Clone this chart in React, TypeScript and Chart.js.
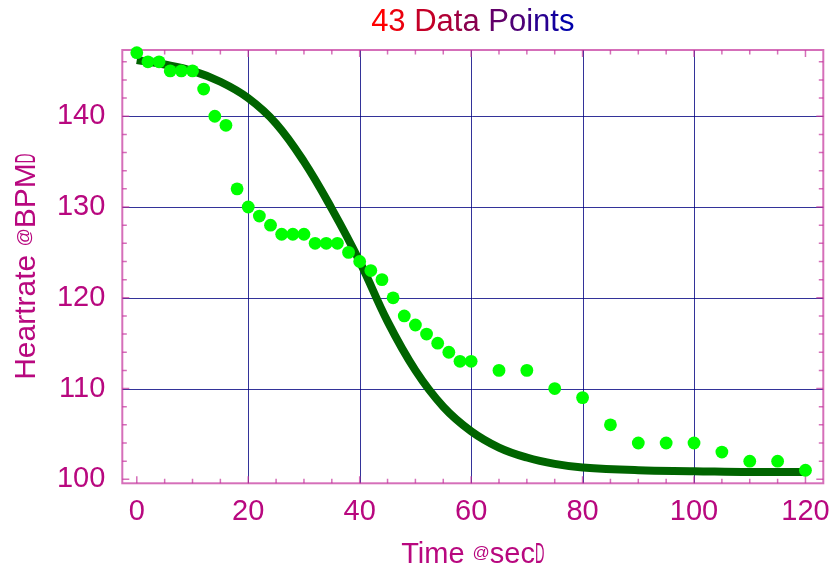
import React, { useEffect, useRef } from 'react';
import { Chart, registerables } from 'chart.js';

Chart.register(...registerables);

// ---- data ----
const TIME_SEC = [
  0, 2, 4, 6, 8, 10, 12, 14, 16, 18, 20, 22, 24, 26, 28, 30, 32, 34, 36, 38, 40,
  42, 44, 46, 48, 50, 52, 54, 56, 58, 60, 65, 70, 75, 80, 85, 90, 95, 100, 105,
  110, 115, 120,
];
const HEARTRATE_BPM = [
  147, 146, 146, 145, 145, 145, 143, 140, 139, 132, 130, 129, 128, 127, 127, 127,
  126, 126, 126, 125, 124, 123, 122, 120, 118, 117, 116, 115, 114, 113, 113, 112,
  112, 110, 109, 106, 104, 104, 104, 103, 102, 102, 101,
];
// fitted curve
const FIT_TIME = [0, 5, 10, 15, 20, 25, 30, 35, 40, 45, 50, 55, 60, 65, 70, 75, 80, 90, 100, 110, 120];
const FIT_BPM = [
  146.2, 145.7, 145.0, 143.8, 142.0, 139.2, 135.0, 129.8, 124.0, 117.4, 112.0,
  108.0, 105.3, 103.5, 102.4, 101.7, 101.3, 101.0, 100.9, 100.8, 100.8,
];

const X_LABEL_TICKS = [0, 20, 40, 60, 80, 100, 120];
const X_MINOR_TICKS = [0, 5, 10, 15, 20, 25, 30, 35, 40, 45, 50, 55, 60, 65, 70, 75, 80, 85, 90, 95, 100, 105, 110, 115, 120];
const Y_LABEL_TICKS = [100, 110, 120, 130, 140];
const Y_MINOR_TICKS = [100, 102, 104, 106, 108, 110, 112, 114, 116, 118, 120, 122, 124, 126, 128, 130, 132, 134, 136, 138, 140, 142, 144, 146];
const X_GRID = [20, 40, 60, 80, 100];
const Y_GRID = [110, 120, 130, 140];
const X_RANGE = [-2.6, 123.2];
const Y_RANGE = [99.56, 147.3];

const TITLE = `${TIME_SEC.length} Data Points`;
const X_TITLE_PARTS = ['Time ', '@', 'sec', 'D'];
const Y_TITLE_PARTS = ['Heartrate ', '@', 'BPM', 'D'];

const FONT = '"Liberation Sans", Arial, sans-serif';
const LABEL_COLOR = '#b8087f';
const GRID_COLOR = 'rgba(0,0,128,0.8)';
const FRAME_COLOR = 'rgba(195,50,155,0.7)';

function drawParts(ctx: CanvasRenderingContext2D, parts: string[], cx: number, baseY: number, size: number) {
  // parts: [normal, small @, normal, narrow D]
  const small = Math.round(size * 0.6);
  const narrow = 0.45;
  const widths: number[] = [];
  parts.forEach((p, i) => {
    ctx.font = `${i === 1 ? small : size}px ${FONT}`;
    let w = ctx.measureText(p).width;
    if (i === 3) w *= narrow;
    widths.push(w);
  });
  const total = widths.reduce((a, b) => a + b, 0);
  let x = cx - total / 2;
  ctx.fillStyle = LABEL_COLOR;
  ctx.textBaseline = 'alphabetic';
  ctx.textAlign = 'left';
  parts.forEach((p, i) => {
    ctx.font = `${i === 1 ? small : size}px ${FONT}`;
    if (i === 3) {
      ctx.save();
      ctx.translate(x, baseY);
      ctx.scale(narrow, 1);
      ctx.fillText(p, 0, 0);
      ctx.restore();
    } else {
      ctx.fillText(p, x, i === 1 ? baseY - 5 : baseY);
    }
    x += widths[i];
  });
}

const decorPlugin = {
  id: 'decor',
  beforeDatasetsDraw(chart: any) {
    const { ctx, chartArea: a, scales } = chart;
    const xs = scales.x;
    const ys = scales.y;
    ctx.save();
    ctx.lineWidth = 1;
    ctx.strokeStyle = GRID_COLOR;
    X_GRID.forEach((v) => {
      const px = Math.round(xs.getPixelForValue(v)) + 0.5;
      ctx.beginPath();
      ctx.moveTo(px, a.top);
      ctx.lineTo(px, a.bottom);
      ctx.stroke();
    });
    Y_GRID.forEach((v) => {
      const py = Math.round(ys.getPixelForValue(v)) + 0.5;
      ctx.beginPath();
      ctx.moveTo(a.left, py);
      ctx.lineTo(a.right, py);
      ctx.stroke();
    });
    ctx.strokeStyle = FRAME_COLOR;
    ctx.lineWidth = 2;
    ctx.strokeRect(a.left, a.top, a.right - a.left, a.bottom - a.top);
    ctx.lineWidth = 1.5;
    X_MINOR_TICKS.forEach((v) => {
      const px = xs.getPixelForValue(v);
      const len = X_LABEL_TICKS.includes(v) ? 7 : 4.5;
      ctx.beginPath();
      ctx.moveTo(px, a.bottom);
      ctx.lineTo(px, a.bottom - len);
      ctx.moveTo(px, a.top);
      ctx.lineTo(px, a.top + len);
      ctx.stroke();
    });
    Y_MINOR_TICKS.forEach((v) => {
      const py = ys.getPixelForValue(v);
      const len = Y_LABEL_TICKS.includes(v) ? 7 : 4.5;
      ctx.beginPath();
      ctx.moveTo(a.left, py);
      ctx.lineTo(a.left + len, py);
      ctx.moveTo(a.right, py);
      ctx.lineTo(a.right - len, py);
      ctx.stroke();
    });
    ctx.restore();
  },
  afterDraw(chart: any) {
    const { ctx, chartArea: a } = chart;
    const cx = (a.left + a.right) / 2;
    const cy = (a.top + a.bottom) / 2;
    ctx.save();
    // title with colour running from red to navy
    ctx.font = `31px ${FONT}`;
    ctx.textBaseline = 'alphabetic';
    ctx.textAlign = 'left';
    const chars = TITLE.split('');
    const total = ctx.measureText(TITLE).width;
    let x = cx - total / 2;
    const n = chars.length - 1;
    chars.forEach((c, i) => {
      const t = i / n;
      const r = Math.round(255 * (1 - t));
      const b = Math.round(170 * t);
      ctx.fillStyle = `rgb(${r},0,${b})`;
      ctx.fillText(c, x, 31);
      x += ctx.measureText(c).width;
    });
    // x title
    drawParts(ctx, X_TITLE_PARTS, cx, 563, 29);
    // y title
    ctx.save();
    ctx.translate(35, cy);
    ctx.rotate(-Math.PI / 2);
    drawParts(ctx, Y_TITLE_PARTS, 0, 0, 30);
    ctx.restore();
    ctx.restore();
  },
};

export default function App() {
  const ref = useRef<HTMLCanvasElement | null>(null);
  useEffect(() => {
    document.body.style.margin = '0';
    const canvas = ref.current;
    if (!canvas) return;
    const chart = new Chart(canvas, {
      type: 'scatter',
      data: {
        datasets: [
          {
            label: 'Heartrate',
            data: TIME_SEC.map((t, i) => ({ x: t, y: HEARTRATE_BPM[i] })),
            pointRadius: 6.4,
            pointHoverRadius: 6.4,
            backgroundColor: 'rgb(0,255,0)',
            borderWidth: 0,
            showLine: false,
            clip: false,
          } as any,
          {
            label: 'Fit',
            data: FIT_TIME.map((t, i) => ({ x: t, y: FIT_BPM[i] })),
            showLine: true,
            pointRadius: 0,
            borderColor: 'rgb(0,100,0)',
            borderWidth: 8,
            tension: 0.4,
            fill: false,
            clip: false,
          } as any,
        ],
      },
      options: {
        responsive: false,
        animation: false,
        devicePixelRatio: 1,
        layout: { padding: { top: 50, right: 9.7, left: 0, bottom: 0 } },
        plugins: {
          legend: { display: false },
          title: { display: false },
          tooltip: { enabled: false },
        },
        scales: {
          x: {
            type: 'linear',
            min: X_RANGE[0],
            max: X_RANGE[1],
            grid: { display: false },
            border: { display: false },
            afterBuildTicks: (s: any) => {
              s.ticks = X_LABEL_TICKS.map((v) => ({ value: v }));
            },
            afterFit: (s: any) => {
              s.height = 570 - 483.3;
              s.paddingLeft = 0;
              s.paddingRight = 0;
            },
            ticks: {
              autoSkip: false,
              maxRotation: 0,
              padding: 3,
              color: LABEL_COLOR,
              font: { family: FONT, size: 29 },
            },
          },
          y: {
            type: 'linear',
            min: Y_RANGE[0],
            max: Y_RANGE[1],
            grid: { display: false },
            border: { display: false },
            afterBuildTicks: (s: any) => {
              s.ticks = Y_LABEL_TICKS.map((v) => ({ value: v }));
            },
            afterFit: (s: any) => {
              s.width = 122.3;
              s.paddingTop = 0;
              s.paddingBottom = 0;
            },
            ticks: {
              autoSkip: false,
              padding: 9,
              color: LABEL_COLOR,
              font: { family: FONT, size: 29 },
            },
          },
        },
      } as any,
      plugins: [decorPlugin],
    });
    return () => chart.destroy();
  }, []);
  return (
    <div style={{ width: 833, height: 570, background: '#fff' }}>
      <canvas ref={ref} width={833} height={570} style={{ display: 'block' }} />
    </div>
  );
}
